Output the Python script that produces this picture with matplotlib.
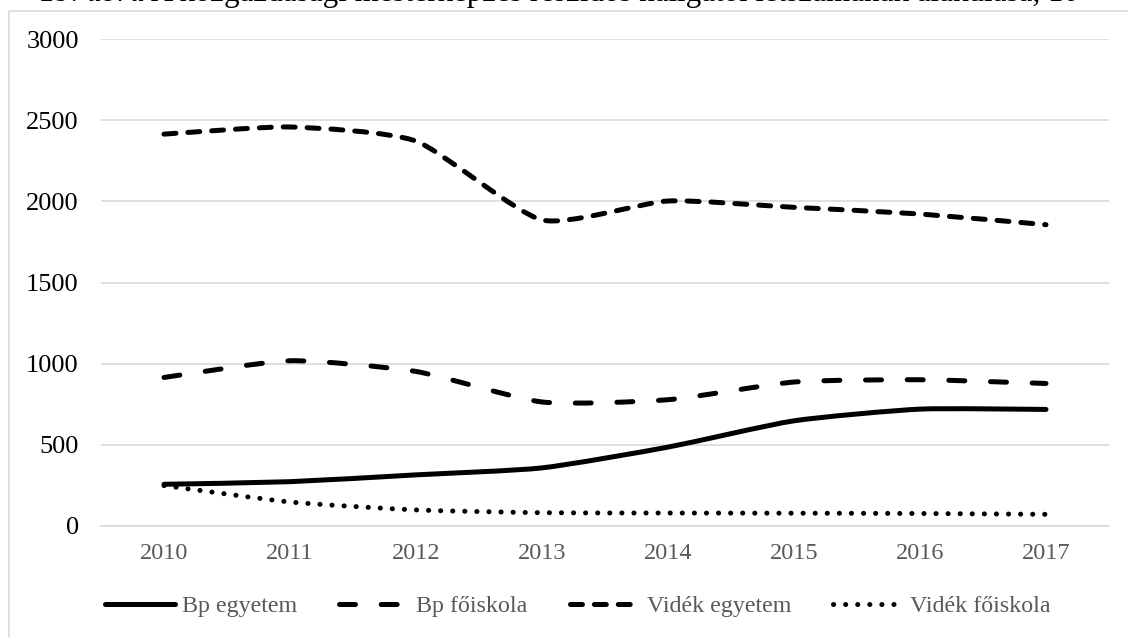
import numpy as np
import matplotlib
matplotlib.use('Agg')
import matplotlib.pyplot as plt
from matplotlib.path import Path
from matplotlib.patches import PathPatch, Rectangle
from matplotlib.lines import Line2D

years = ['2010', '2011', '2012', '2013', '2014', '2015', '2016', '2017']
bp_egyetem = [257, 273, 315, 358, 486, 648, 720, 718]
bp_foiskola = [915, 1018, 952, 764, 778, 887, 901, 878]
videk_egyetem = [2414, 2458, 2371, 1885, 2002, 1963, 1922, 1856]
videk_foiskola = [249, 148, 99, 82, 80, 79, 77, 72]
series_names = ['Bp egyetem', 'Bp főiskola', 'Vidék egyetem', 'Vidék főiskola']

plt.rcParams['font.family'] = ['Liberation Serif', 'DejaVu Serif']
plt.rcParams['lines.scale_dashes'] = False

GRID = '#D9D9D9'
TXT = '#595959'

# linestyle per series, dash lengths in points
styles = [
    'solid',
    (0, (11.5, 18.5)),
    (0, (8.6, 8.6)),
    (0, (0.1, 8.6)),
]


def smooth_path(xs, ys, k=10.0):
    # Excel-like smoothed line: cubic Bezier through the points
    pts = np.column_stack([xs, ys]).astype(float)
    n = len(pts)
    verts = [pts[0]]
    codes = [Path.MOVETO]
    for i in range(n - 1):
        p0 = pts[i - 1] if i > 0 else pts[i]
        p1 = pts[i]
        p2 = pts[i + 1]
        p3 = pts[i + 2] if i + 2 < n else pts[i + 1]
        c1 = p1 + (p2 - p0) / k
        c2 = p2 - (p3 - p1) / k
        verts += [c1, c2, p2]
        codes += [Path.CURVE4] * 3
    return Path(verts, codes)


fig = plt.figure(figsize=(11.28, 6.37), dpi=100)
ax = fig.add_axes([101 / 1128, 1 - 526 / 637, 1008 / 1128, 487 / 637])

x = np.arange(len(years))
all_series = [bp_egyetem, bp_foiskola, videk_egyetem, videk_foiskola]
handles = []
for vals, ls, name in zip(all_series, styles, series_names):
    patch = PathPatch(smooth_path(x, vals), facecolor='none', edgecolor='black',
                      linewidth=3.6, linestyle=ls, zorder=3)
    patch.set_capstyle('round')
    patch.set_joinstyle('round')
    ax.add_patch(patch)
    handles.append(Line2D([], [], color='black', linewidth=3.6, linestyle=ls,
                          dash_capstyle='round', solid_capstyle='round', label=name))

ax.set_xlim(-0.5, len(years) - 0.5)
ax.set_ylim(0, 3000)
ax.set_xticks(x)
ax.set_xticklabels(years, color=TXT, fontsize=17.5)
ax.set_yticks(range(0, 3001, 500))
ax.tick_params(axis='y', labelsize=19, labelcolor='black', length=0, pad=16)
ax.tick_params(axis='x', length=0, pad=12)
ax.grid(axis='y', color=GRID, linewidth=1.2)
ax.set_axisbelow(True)
for side in ['top', 'right', 'left']:
    ax.spines[side].set_visible(False)
ax.spines['bottom'].set_color(GRID)
ax.spines['bottom'].set_linewidth(1.2)

fig.legend(handles=handles, loc='center', bbox_to_anchor=(578 / 1128, 1 - 606 / 637),
           ncol=4, frameon=False, fontsize=17.3, labelcolor=TXT,
           handlelength=2.9, handletextpad=0.3, columnspacing=1.75)

# chart area border (cut by the image edges)
fig.patches.append(Rectangle((8.5 / 1128, -0.1), 1.2, 1 - 11 / 637 + 0.1,
                             transform=fig.transFigure, fill=False,
                             edgecolor=GRID, linewidth=1.2))

# title, mostly cut off at the top of the picture as in the source
t1 = fig.text(40 / 1128, 1 - 8 / 637, '19. ábra', fontsize=22.3, style='italic',
              va='bottom', ha='left')
ax.annotate(' A közgazdasági mesterképzés részidős hallgatói létszámának alakulása, 10',
            xy=(1, 0), xycoords=t1, va='bottom', ha='left', fontsize=22.3,
            annotation_clip=False)

fig.savefig('out.png', dpi=100)
